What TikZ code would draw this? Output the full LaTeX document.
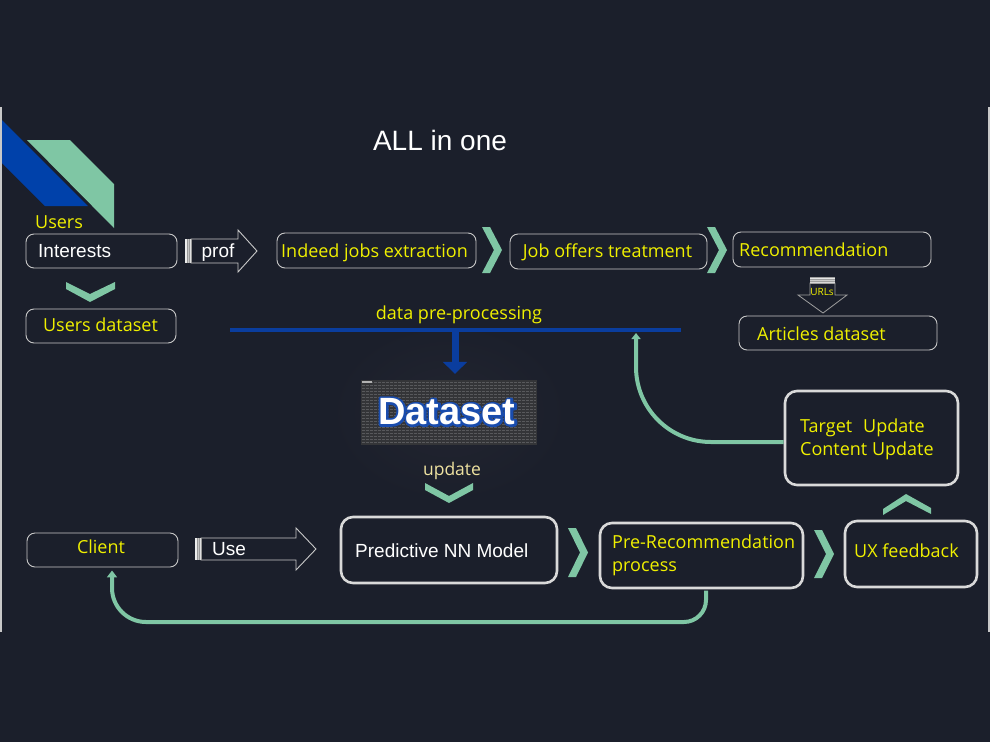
\documentclass[tikz,border=0pt]{standalone}
\usepackage{fontspec}
\setmainfont{Liberation Sans}
\newfontfamily\yfont{Open Sans}
\usetikzlibrary{arrows.meta}
\definecolor{bg}{RGB}{27,31,43}
\definecolor{mint}{RGB}{127,198,164}
\definecolor{decblue}{RGB}{0,65,170}
\definecolor{lineblue}{RGB}{10,61,158}
\definecolor{yel}{RGB}{240,240,0}
\definecolor{paleyel}{RGB}{238,226,160}
\definecolor{edgec}{RGB}{200,200,200}
\definecolor{edget}{RGB}{217,217,217}
\definecolor{dsfill}{RGB}{52,53,56}
\definecolor{dsdot}{RGB}{88,89,92}
\definecolor{halo}{RGB}{34,37,48}
\tikzset{
  box/.style={draw=edgec, line width=0.9pt, rounded corners=8pt, fill=bg, inner sep=0pt},
  tbox/.style={draw=edget, line width=2.6pt, rounded corners=12pt, fill=bg, inner sep=0pt},
  ytxt/.style={text=yel, font=\yfont\fontsize{18}{23}\selectfont, inner sep=0pt, text height=12.9pt, text depth=0pt},
  wtxt/.style={text=white, font=\fontsize{19}{23}\selectfont, inner sep=0pt, text height=13.6pt, text depth=0pt},
  dstxt/.style={font=\bfseries\fontsize{38}{40}\selectfont, inner sep=0pt, text height=27.2pt, text depth=0pt},
  chev/.style={fill=mint},
  barrow/.style={draw=edgec, fill=bg, line width=0.9pt},
  mintpath/.style={draw=mint, line width=4pt},
}
\begin{document}
\begin{tikzpicture}[x=1pt,y=-1pt]
\fill[bg] (0,0) rectangle (990,742);
\useasboundingbox (0,0) rectangle (990,742);

% decorative bands
\fill[decblue] (0,118) -- (88,206) -- (45,206) -- (0,161) -- cycle;
\fill[mint] (27,140) -- (70,140) -- (114,184) -- (114,228) -- cycle;

% slide edges
\draw[edgec, line width=1.6pt] (1,107) -- (1,632);
\draw[edgec, line width=1.2pt] (989,107) -- (989,632);

% title
\node[text=white, font=\fontsize{28}{32}\selectfont, inner sep=0pt] (title) at (440,140) {ALL in one};

% halo behind dataset
\shade[inner color=halo, outer color=bg] (449,412) ellipse (120 and 90);

% top row boxes
\node[box, minimum width=151pt, minimum height=34pt] (interests) at (101.5,251) {};
\node[box, minimum width=150pt, minimum height=34pt] (usersds) at (101,326) {};
\node[box, minimum width=199pt, minimum height=35pt] (indeed) at (376.5,250.5) {};
\node[box, minimum width=197pt, minimum height=35pt] (jobs) at (608.5,251.5) {};
\node[box, minimum width=198pt, minimum height=35pt] (rec) at (832,249.5) {};
\node[box, minimum width=198pt, minimum height=34pt] (articles) at (838,333) {};

% bottom row boxes
\node[box, minimum width=151pt, minimum height=34pt] (client) at (102.5,550) {};
\node[tbox, minimum width=216pt, minimum height=66pt] (predictive) at (449,550) {};
\node[tbox, minimum width=203pt, minimum height=65pt] (prerec) at (701.5,555.5) {};
\node[tbox, minimum width=132pt, minimum height=66pt] (ux) at (911,554) {};
\node[tbox, minimum width=173pt, minimum height=94pt] (tgt) at (871.5,438) {};

% texts
\node[ytxt, anchor=west] (tusers) at (35,222) {Users};
\node[wtxt, anchor=west] (tinterests) at (38,251) {Interests};
\node[ytxt] (tusersds) at (100.5,325) {Users dataset};
\node[ytxt] (tindeed) at (374.5,251) {Indeed jobs extraction};
\node[ytxt] (tjobs) at (607.5,251) {Job offers treatment};
\node[ytxt, anchor=west] (trec) at (739,250) {Recommendation};
\node[ytxt, anchor=west] (tarticles) at (757,334) {Articles dataset};
\node[ytxt] (tdpp) at (459,313) {data pre-processing};
\node[ytxt] (tclient) at (101,547) {Client};
\node[wtxt, anchor=west] (tpred) at (355,551) {Predictive NN Model};
\node[ytxt, anchor=west] (tprerec1) at (612,542.5) {Pre-Recommendation};
\node[ytxt, anchor=west] (tprerec2) at (612,565.5) {process};
\node[ytxt, anchor=west] (tux) at (854,551) {UX feedback};
\node[ytxt, anchor=west] (ttgt1) at (800,426.5) {Target\hspace{11pt}Update};
\node[ytxt, anchor=west] (ttgt2) at (800,449.5) {Content Update};
\node[text=paleyel, font=\yfont\fontsize{17.5}{20}\selectfont, inner sep=0pt, text height=12.5pt, text depth=0pt] (tupdate) at (452,469) {update};

% chevrons
\fill[chev] (66,282) -- (90,294) -- (115,282) -- (115,289) -- (90,302) -- (66,289) -- cycle;
\fill[chev] (425,483) -- (449,496) -- (473,483) -- (473,490) -- (449,503) -- (425,490) -- cycle;
\fill[chev] (883,509) -- (906,494) -- (931,508) -- (931,514) -- (906,501) -- (883,515) -- cycle;
\fill[chev] (482,227) -- (490,227) -- (502,250) -- (490,273) -- (482,273) -- (494,250) -- cycle;
\fill[chev] (707,227) -- (715,227) -- (727,250) -- (715,273) -- (707,273) -- (719,250) -- cycle;
\fill[chev] (568,528) -- (576,528) -- (588,552.5) -- (576,577) -- (568,577) -- (580,552.5) -- cycle;
\fill[chev] (814,530) -- (822,530) -- (834,554) -- (822,578) -- (814,578) -- (826,554) -- cycle;

% prof block arrow
\draw[barrow] (191,239) -- (238,239) -- (238,230) -- (257,251) -- (238,272) -- (238,263) -- (191,263) -- cycle;
\fill[gray!80] (185,239) rectangle (191.5,263);
\draw[white!85!gray, line width=1.3pt] (186,239) -- (186,263);
\draw[gray!45, line width=1pt] (188,239) -- (188,263);
\draw[white!75!gray, line width=1.2pt] (190.3,239) -- (190.3,263);
\node[wtxt] (tprof) at (218,251) {prof};

% Use block arrow
\draw[barrow] (201,538) -- (296,538) -- (296,528) -- (316,549) -- (296,570) -- (296,560) -- (201,560) -- cycle;
\fill[gray!80] (195,538) rectangle (201.5,560);
\draw[white!85!gray, line width=1.3pt] (196,538) -- (196,560);
\draw[gray!45, line width=1pt] (198,538) -- (198,560);
\draw[white!75!gray, line width=1.2pt] (200.3,538) -- (200.3,560);
\node[wtxt, anchor=west] (tuse) at (212,549) {Use};

% URLs arrow
\draw[draw=gray!75, fill=bg, line width=0.8pt] (810,283) -- (835,283) -- (835,295) -- (847,295) -- (823,313) -- (798,295) -- (810,295) -- cycle;
\fill[gray!75] (810,277) rectangle (835,283.5);
\draw[white!80!gray, line width=1pt] (810,278) -- (835,278);
\draw[gray!40, line width=0.8pt] (810,280.3) -- (835,280.3);
\draw[white!70!gray, line width=1pt] (810,282.5) -- (835,282.5);
\node[text=yel, font=\yfont\fontsize{10}{12}\selectfont, inner sep=0pt] (turls) at (822,292) {URLs};

% blue pre-processing line and arrow
\coordinate (bl1) at (230,330);
\coordinate (bl2) at (681,330);
\coordinate (dp) at (455,331);
\coordinate (bla) at (636,333);
\draw[lineblue, line width=4pt] (bl1) -- (bl2);

% dataset
\node[fill=dsfill, minimum width=176pt, minimum height=65pt, inner sep=0pt] (dataset) at (449,412.5) {};
\foreach \yy in {382.5,385.5,...,444} \draw[dsdot, line width=1pt, dash pattern=on 2.5pt off 1.5pt] (362,\yy) -- (536,\yy);
\fill[gray!60] (362,381) rectangle (372,383);
\node[dstxt, text=white] (dsoutline) at (447,411) {\special{pdf:literal direct 1 Tr 4.4 w 1 J 1 j 0.1 0.3 0.68 RG}Dataset\special{pdf:literal direct 0 Tr}};
\node[dstxt, text=white] (dstext) at (447,411) {Dataset};

\draw[lineblue, line width=7pt, -{Triangle[width=24pt,length=12pt]}] (dp) -- ([xshift=6pt,yshift=6pt]dataset.north);

% green feedback paths
\draw[mintpath, -{Triangle[width=9pt,length=6pt]}] ([yshift=-4pt]tgt.west) -- (711,442) .. controls (669.6,442) and (636,408.4) .. (636,367) -- (bla);
\draw[mintpath, -{Triangle[width=10pt,length=7pt]}] ([xshift=4.5pt,yshift=-1.3pt]prerec.south) -- (706,600) .. controls (706,612.1) and (696.1,622) .. (684,622) -- (146,622) .. controls (127.2,622) and (112,606.8) .. (112,588) -- ([xshift=9.5pt,yshift=-3pt]client.south);
\end{tikzpicture}
\end{document}
